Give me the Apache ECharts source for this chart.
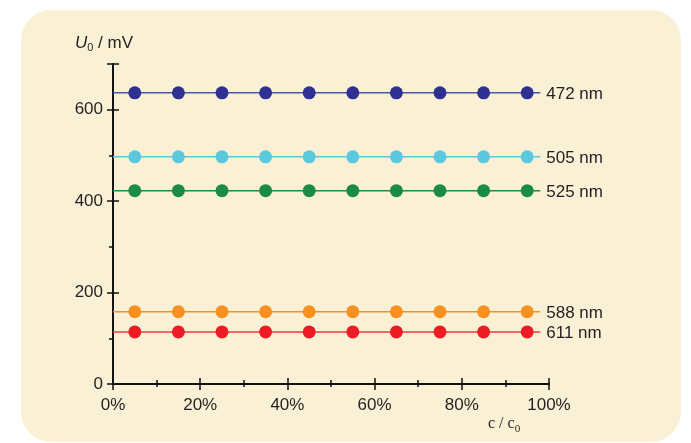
<!DOCTYPE html>
<html>
<head>
<meta charset="utf-8">
<script src="https://cdn.jsdelivr.net/npm/echarts@6/dist/echarts.min.js"></script>
<style>
  html, body { margin: 0; padding: 0; background: #ffffff; }
  #chart { width: 691px; height: 443px; }
</style>
</head>
<body>
<div id="chart"></div>
<script>
// Concentration ratio c / c0 (in %) at which U0 was measured
const concentrations = [5, 15, 25, 35, 45, 55, 65, 75, 85, 95];
// Wavelengths of the LEDs
const wavelengths = ['472 nm', '505 nm', '525 nm', '588 nm', '611 nm'];
// Threshold voltage U0 in mV for each LED (constant over concentration)
const u472 = [637, 637, 637, 637, 637, 637, 637, 637, 637, 637];
const u505 = [497, 497, 497, 497, 497, 497, 497, 497, 497, 497];
const u525 = [423, 423, 423, 423, 423, 423, 423, 423, 423, 423];
const u588 = [158, 158, 158, 158, 158, 158, 158, 158, 158, 158];
const u611 = [114, 114, 114, 114, 114, 114, 114, 114, 114, 114];
// Tick values
const xMajorTicks = [0, 20, 40, 60, 80, 100];
const xMinorTicks = [10, 30, 50, 70, 90];
const yMajorTicks = [0, 200, 400, 600, 700];
const yLabelTicks = [0, 200, 400, 600];
const yMinorTicks = [100, 300, 500];

const seriesValues = [u472, u505, u525, u588, u611];
const dotColors = ['#2e3192', '#5bc8de', '#1a8c45', '#f7901e', '#ed1c24'];
const lineColors = ['#4a58a8', '#5bc8de', '#1a8c45', '#f7901e', '#f03a3a'];

const chart = echarts.init(document.getElementById('chart'));

const sans = 'Liberation Sans, Arial, sans-serif';
const serif = 'Liberation Serif, Times New Roman, serif';
const lineStart = 0, lineEnd = 98;
const series = [];
seriesValues.forEach((vals, i) => {
  const level = vals[vals.length - 1];
  series.push({
    type: 'line',
    name: wavelengths[i] + ' line',
    xAxisIndex: 0, yAxisIndex: 0,
    data: [[lineStart, vals[0]], [lineEnd, level]],
    showSymbol: false,
    symbol: 'none',
    silent: true,
    z: 2,
    lineStyle: { color: lineColors[i], width: 1.5 },
    endLabel: {
      show: true,
      formatter: () => wavelengths[i],
      color: '#231f20',
      fontSize: 17,
      fontFamily: sans,
      distance: 6,
      offset: [0, 1.5]
    }
  });
  series.push({
    type: 'scatter',
    name: wavelengths[i],
    xAxisIndex: 0, yAxisIndex: 0,
    data: concentrations.map((c, k) => [c, vals[k]]),
    symbolSize: 13,
    z: 3,
    itemStyle: { color: dotColors[i], opacity: 1 }
  });
});

const axisLine = { show: true, onZero: false, lineStyle: { color: '#111', width: 1.5 } };
const tickStyle = { color: '#111', width: 1.5 };
const labelFont = { color: '#231f20', fontSize: 17, fontFamily: sans };

function xAxis(extra) {
  return Object.assign({
    type: 'value', min: 0, max: 100, position: 'bottom',
    axisLine: axisLine, splitLine: { show: false },
    axisLabel: { show: false }
  }, extra);
}
function yAxis(extra) {
  return Object.assign({
    type: 'value', min: 0, max: 700, position: 'left',
    axisLine: axisLine, splitLine: { show: false },
    axisLabel: { show: false }
  }, extra);
}

chart.setOption({
  animation: false,
  backgroundColor: '#ffffff',
  grid: { left: 113, right: 142, top: 64, bottom: 59 },
  graphic: [
    {
      type: 'rect', z: -10, silent: true,
      shape: { x: 21, y: 10, width: 660, height: 432, r: 30 },
      style: { fill: '#faf0d6' }
    },
    {
      type: 'text', left: 75, top: 35, z: 10,
      style: {
        text: '{i|U}{s|0}{n| / mV}',
        rich: {
          i: { fontStyle: 'italic', fontSize: 17, fill: '#231f20', fontFamily: sans },
          s: { fontSize: 11, fill: '#231f20', fontFamily: sans, padding: [9, 0, 0, 0] },
          n: { fontSize: 17, fill: '#231f20', fontFamily: sans }
        }
      }
    },
    {
      type: 'text', left: 488, top: 416, z: 10,
      style: {
        text: '{n|c / c}{s|0}',
        rich: {
          n: { fontSize: 16, fill: '#231f20', fontFamily: serif },
          s: { fontSize: 11, fill: '#231f20', fontFamily: serif, padding: [10, 0, 0, 0] }
        }
      }
    }
  ],
  xAxis: [
    xAxis({
      axisTick: { show: true, inside: false, length: 6, lineStyle: tickStyle, customValues: xMajorTicks },
      axisLabel: Object.assign({ show: true, margin: 13, formatter: v => v + '%', customValues: xMajorTicks }, labelFont)
    }),
    xAxis({ axisTick: { show: true, inside: true, length: 6, lineStyle: tickStyle, customValues: xMajorTicks } }),
    xAxis({ axisTick: { show: true, inside: true, length: 4, lineStyle: tickStyle, customValues: xMinorTicks } }),
    xAxis({ axisTick: { show: true, inside: false, length: 3, lineStyle: tickStyle, customValues: xMinorTicks } })
  ],
  yAxis: [
    yAxis({
      axisTick: { show: true, inside: false, length: 6, lineStyle: tickStyle, customValues: yMajorTicks },
      axisLabel: Object.assign({ show: true, margin: 10, customValues: yLabelTicks }, labelFont)
    }),
    yAxis({ axisTick: { show: true, inside: true, length: 6, lineStyle: tickStyle, customValues: yMajorTicks } }),
    yAxis({ axisTick: { show: true, inside: false, length: 4, lineStyle: tickStyle, customValues: yMinorTicks } })
  ],
  series: series
});
</script>
</body>
</html>
